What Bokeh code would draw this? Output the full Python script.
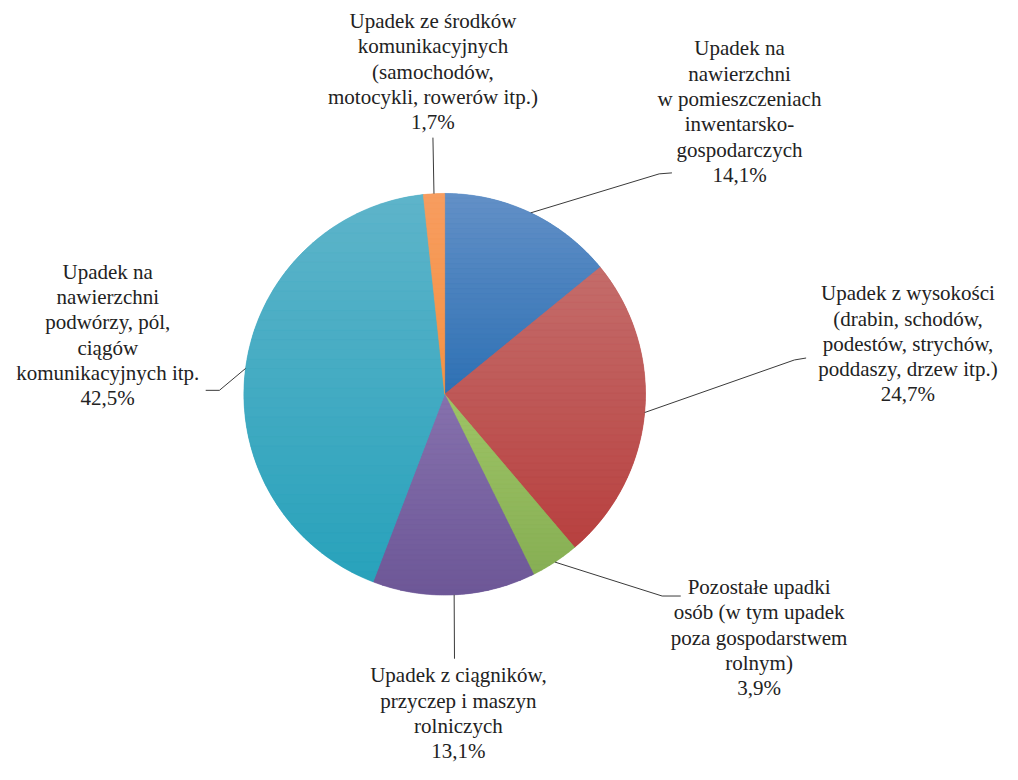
import numpy as np
from bokeh.plotting import figure
from bokeh.models import Range1d, ColumnDataSource
from bokeh.core.properties import value
from bokeh.embed import file_html
from bokeh.resources import INLINE

# ---------------- data ----------------
categories = [
    "Upadek na\nnawierzchni\nw pomieszczeniach\ninwentarsko-\ngospodarczych",
    "Upadek z wysokości\n(drabin, schodów,\npodestów, strychów,\npoddaszy, drzew itp.)",
    "Pozostałe upadki\nosób (w tym upadek\npoza gospodarstwem\nrolnym)",
    "Upadek z ciągników,\nprzyczep i maszyn\nrolniczych",
    "Upadek na\nnawierzchni\npodwórzy, pól,\nciągów\nkomunikacyjnych itp.",
    "Upadek ze środków\nkomunikacyjnych\n(samochodów,\nmotocykli, rowerów itp.)",
]
shares = [14.1, 24.7, 3.9, 13.1, 42.5, 1.7]
share_labels = ["14,1%", "24,7%", "3,9%", "13,1%", "42,5%", "1,7%"]

top_colors = ["#6390C7", "#C46D6B", "#9EC466", "#8671AD", "#5EB4CA", "#F79D60"]
bottom_colors = ["#2E71B4", "#B8403F", "#87AF54", "#6D5797", "#28A2BB", "#F59243"]

# ---------------- layout (reference pixel positions) ----------------
CX, CY_S, R = 451, 402, 205
label_x = [752, 924, 772, 465, 107, 439]
label_first_baseline = [57, 307, 607, 697, 285, 29]
BASELINE_SHIFT = -8.0
LINE_STEP = 25.8
leader_elbow = [(670, 177), (808, 367), (673, 608), (461, 672), (221, 398), (439, 140)]
leader_end = [(683, 176), (820, 365), (692, 608), (461, 672), (207, 398), (439, 140)]

W, H = 1002, 764
K = H / 780.0            # px per reference pixel
XSPAN = W / K
XPAD = (XSPAN - 1018) / 2


def Y(sy):
    return 780 - sy


p = figure(width=W, height=H, x_range=Range1d(-XPAD, 1018 + XPAD), y_range=Range1d(0, 780),
           output_backend="svg", toolbar_location=None, min_border=0)
p.axis.visible = False
p.grid.visible = False
p.outline_line_color = None
p.background_fill_color = "white"
p.border_fill_color = "white"

cy = Y(CY_S)
vals = np.array(shares, dtype=float)
fr = vals / vals.sum()
ends = np.cumsum(fr)
starts = ends - fr
start_ang = np.pi / 2 - 2 * np.pi * starts
end_ang = np.pi / 2 - 2 * np.pi * ends

src = ColumnDataSource(dict(x=[CX] * len(vals), y=[cy] * len(vals),
                            start=start_ang, end=end_ang, color=bottom_colors))
p.wedge(x="x", y="y", radius=R, start_angle="start", end_angle="end",
        direction="clock", fill_color="color", line_color=None, source=src)


# gradient shading per slice (vertical, lighter at top)
def clip(poly, yval, keep_above):
    out = []
    n = len(poly)
    for i in range(n):
        a = poly[i]
        b = poly[(i + 1) % n]
        ina = a[1] >= yval if keep_above else a[1] <= yval
        inb = b[1] >= yval if keep_above else b[1] <= yval
        if ina:
            out.append(a)
        if ina != inb:
            t = (yval - a[1]) / (b[1] - a[1])
            out.append((a[0] + t * (b[0] - a[0]), yval))
    return out


def hex2rgb(h):
    h = h.lstrip("#")
    return np.array([int(h[i:i + 2], 16) for i in (0, 2, 4)], dtype=float)


def rgb2hex(c):
    return "#%02x%02x%02x" % tuple(int(round(v)) for v in c)


bx, by, bc = [], [], []
NB = 40
for i in range(len(vals)):
    angs = np.linspace(start_ang[i], end_ang[i], 80)
    poly = [(CX, cy)] + [(CX + R * np.cos(a), cy + R * np.sin(a)) for a in angs]
    ys = [pt[1] for pt in poly]
    ytop, ybot = max(ys), min(ys)
    h = (ytop - ybot) / NB
    ct, cb = hex2rgb(top_colors[i]), hex2rgb(bottom_colors[i])
    for k in range(NB):
        hi = ytop - k * h
        lo = ytop - (k + 1) * h
        band = clip(clip(poly, lo, True), hi, False)
        if len(band) < 3:
            continue
        t = (k + 0.5) / NB
        bx.append([q[0] for q in band])
        by.append([q[1] for q in band])
        bc.append(rgb2hex(ct + (cb - ct) * t))
p.patches(xs=bx, ys=by, fill_color=bc, line_color=bc, line_width=0.6)

# leader lines
lx, ly = [], []
mid = (start_ang + end_ang) / 2
for i in range(len(vals)):
    sx = CX + R * np.cos(mid[i])
    syy = cy + R * np.sin(mid[i])
    ex, ey = leader_elbow[i]
    fx, fy = leader_end[i]
    lx.append([sx, ex, fx])
    ly.append([syy, Y(ey), Y(fy)])
p.multi_line(xs=lx, ys=ly, line_color="#3a3a3a", line_width=1)

# labels
tx, ty, tt = [], [], []
for i in range(len(vals)):
    lines = categories[i].split("\n") + [share_labels[i]]
    for j, ln in enumerate(lines):
        tx.append(label_x[i])
        ty.append(Y(label_first_baseline[i] + BASELINE_SHIFT + j * LINE_STEP))
        tt.append(ln)
p.text(x=tx, y=ty, text=tt, text_align="center", text_baseline="alphabetic",
       text_font=value("'Liberation Serif'"), text_font_size="21px",
       text_color="#222222")

open("out.html", "w").write(file_html(p, INLINE))
